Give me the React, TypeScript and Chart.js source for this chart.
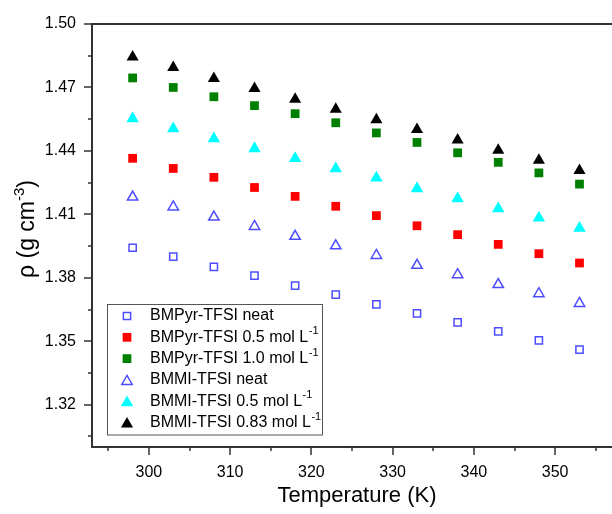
import React, { useEffect, useRef } from 'react';
import { Chart, registerables } from 'chart.js';

Chart.register(...registerables);

// ---- data ----
const temperatures = [298, 303, 308, 313, 318, 323, 328, 333, 338, 343, 348, 353];

const bmpyrNeat = [1.3942, 1.39, 1.3852, 1.381, 1.3763, 1.372, 1.3674, 1.3632, 1.3589, 1.3547, 1.3504, 1.346];
const bmpyr05 = [1.4365, 1.4317, 1.4275, 1.4227, 1.4185, 1.4138, 1.4094, 1.4046, 1.4004, 1.3958, 1.3914, 1.387];
const bmpyr10 = [1.4745, 1.47, 1.4656, 1.4614, 1.4576, 1.4533, 1.4485, 1.444, 1.4391, 1.4346, 1.4296, 1.4243];
const bmmiNeat = [1.4182, 1.4135, 1.4087, 1.4043, 1.3996, 1.3951, 1.3906, 1.3859, 1.3815, 1.3768, 1.3725, 1.3679];
const bmmi05 = [1.4553, 1.4505, 1.4458, 1.4411, 1.4364, 1.4316, 1.4272, 1.4222, 1.4174, 1.4127, 1.4083, 1.4035];
const bmmi083 = [1.4844, 1.4794, 1.4742, 1.4695, 1.4644, 1.4597, 1.4547, 1.4501, 1.4452, 1.4403, 1.4356, 1.4307];

const seriesNames = [
  'BMPyr-TFSI neat',
  'BMPyr-TFSI 0.5 mol L',
  'BMPyr-TFSI 1.0 mol L',
  'BMMI-TFSI neat',
  'BMMI-TFSI 0.5 mol L',
  'BMMI-TFSI 0.83 mol L',
];
const seriesSups = ['', '-1', '-1', '', '-1', '-1'];

const yMajorTicks = [1.32, 1.35, 1.38, 1.41, 1.44, 1.47, 1.5];
const yMinorTicks = [1.305, 1.335, 1.365, 1.395, 1.425, 1.455, 1.485];
const xMajorTicks = [300, 310, 320, 330, 340, 350];
const xMinorTicks = [295, 305, 315, 325, 335, 345, 355];

const xTitle = 'Temperature (K)';
const yTitleMain = 'ρ (g cm';
const yTitleSup = '-3';
const yTitleEnd = ')';

// ---- styles ----
const FONT = '"Liberation Sans", Arial, sans-serif';
const BLUE = '#4d4dff';
const styles = [
  { shape: 'rect', fill: false, color: BLUE, r: 5.1 },
  { shape: 'rect', fill: true, color: '#ff0000', r: 6.2 },
  { shape: 'rect', fill: true, color: '#008000', r: 6.2 },
  { shape: 'triangle', fill: false, color: BLUE, r: 6.0 },
  { shape: 'triangle', fill: true, color: '#00ffff', r: 7.2 },
  { shape: 'triangle', fill: true, color: '#000000', r: 7.0 },
];
const seriesValues = [bmpyrNeat, bmpyr05, bmpyr10, bmmiNeat, bmmi05, bmmi083];

function drawMarker(ctx: CanvasRenderingContext2D, st: any, x: number, y: number) {
  ctx.save();
  ctx.beginPath();
  if (st.shape === 'rect') {
    const s = Math.SQRT1_2 * st.r;
    ctx.rect(x - s, y - s, 2 * s, 2 * s);
  } else {
    const r = st.r;
    ctx.moveTo(x, y - r);
    ctx.lineTo(x + r * Math.sin((2 * Math.PI) / 3), y - r * Math.cos((2 * Math.PI) / 3));
    ctx.lineTo(x + r * Math.sin((4 * Math.PI) / 3), y - r * Math.cos((4 * Math.PI) / 3));
    ctx.closePath();
  }
  if (st.fill) {
    ctx.fillStyle = st.color;
    ctx.fill();
  } else {
    ctx.strokeStyle = st.color;
    ctx.lineWidth = 1.5;
    ctx.stroke();
  }
  ctx.restore();
}

const framePlugin = {
  id: 'frameAndExtras',
  afterDraw(chart: any) {
    const ctx: CanvasRenderingContext2D = chart.ctx;
    const { left, right, top, bottom } = chart.chartArea;
    const xs = chart.scales.x;
    const ys = chart.scales.y;
    ctx.save();
    // frame lines
    ctx.strokeStyle = '#333';
    ctx.lineWidth = 2;
    ctx.beginPath();
    ctx.moveTo(left, top);
    ctx.lineTo(right, top);
    ctx.moveTo(left, top - 1);
    ctx.lineTo(left, bottom + 1);
    ctx.moveTo(left - 1, bottom);
    ctx.lineTo(right, bottom);
    ctx.stroke();
    // ticks
    ctx.lineWidth = 1.5;
    ctx.beginPath();
    yMajorTicks.forEach((v) => {
      const y = Math.round(ys.getPixelForValue(v));
      ctx.moveTo(left - 8, y);
      ctx.lineTo(left, y);
    });
    yMinorTicks.forEach((v) => {
      const y = Math.round(ys.getPixelForValue(v));
      ctx.moveTo(left - 4, y);
      ctx.lineTo(left, y);
    });
    xMajorTicks.forEach((v) => {
      const x = Math.round(xs.getPixelForValue(v));
      ctx.moveTo(x, bottom);
      ctx.lineTo(x, bottom + 8);
    });
    xMinorTicks.forEach((v) => {
      const x = Math.round(xs.getPixelForValue(v));
      ctx.moveTo(x, bottom);
      ctx.lineTo(x, bottom + 4);
    });
    ctx.stroke();

    // x title
    ctx.fillStyle = '#000';
    ctx.font = `22px ${FONT}`;
    ctx.textAlign = 'center';
    ctx.textBaseline = 'middle';
    ctx.fillText(xTitle, 357, 496);

    // y title (rotated with superscript)
    ctx.save();
    ctx.translate(28, 229);
    ctx.rotate(-Math.PI / 2);
    ctx.textAlign = 'left';
    ctx.textBaseline = 'middle';
    const mainFont = `23px ${FONT}`;
    const supFont = `15px ${FONT}`;
    ctx.font = mainFont;
    const w1 = ctx.measureText(yTitleMain).width;
    const w3 = ctx.measureText(yTitleEnd).width;
    ctx.font = supFont;
    const w2 = ctx.measureText(yTitleSup).width;
    let cx = -(w1 + w2 + w3) / 2;
    ctx.font = mainFont;
    ctx.fillText(yTitleMain, cx, 0);
    cx += w1;
    ctx.font = supFont;
    ctx.fillText(yTitleSup, cx, -8);
    cx += w2;
    ctx.font = mainFont;
    ctx.fillText(yTitleEnd, cx, 0);
    ctx.restore();

    // legend
    ctx.fillStyle = '#fff';
    ctx.fillRect(107, 304.5, 215, 130.5);
    ctx.strokeStyle = '#555';
    ctx.lineWidth = 1;
    ctx.strokeRect(107.5, 304.5, 215, 130.5);
    seriesNames.forEach((name, i) => {
      const y = 316 + i * 21.3;
      drawMarker(ctx, styles[i], 127, y + (styles[i].shape === 'triangle' ? 1.5 : 0));
      ctx.fillStyle = '#000';
      ctx.textAlign = 'left';
      ctx.textBaseline = 'middle';
      ctx.font = `16px ${FONT}`;
      ctx.fillText(name, 150, y);
      if (seriesSups[i]) {
        const w = ctx.measureText(name).width;
        ctx.font = `11px ${FONT}`;
        ctx.fillText(seriesSups[i], 150 + w + 0.5, y - 6);
      }
    });
    ctx.restore();
  },
};

export default function App() {
  const canvasRef = useRef<HTMLCanvasElement | null>(null);

  useEffect(() => {
    const canvas = canvasRef.current;
    if (!canvas) return;
    const datasets = seriesValues.map((vals, i) => {
      const st = styles[i];
      return {
        label: seriesNames[i],
        data: temperatures.map((t, j) => ({ x: t, y: vals[j] })),
        pointStyle: st.shape,
        pointRadius: st.r,
        backgroundColor: st.fill ? st.color : 'rgba(0,0,0,0)',
        borderColor: st.color,
        borderWidth: st.fill ? 0 : 1.5,
        showLine: false,
      };
    });
    const chart = new Chart(canvas, {
      type: 'scatter',
      data: { datasets } as any,
      options: {
        responsive: false,
        maintainAspectRatio: false,
        animation: false,
        layout: { autoPadding: false, padding: { top: 24, right: 0, left: 0, bottom: 0 } },
        plugins: { legend: { display: false }, tooltip: { enabled: false } },
        scales: {
          x: {
            type: 'linear',
            min: 293,
            max: 357,
            afterBuildTicks: (s: any) => {
              s.ticks = xMajorTicks.map((v) => ({ value: v }));
            },
            afterFit: (s: any) => {
              s.height = 67;
              s.paddingLeft = 0;
              s.paddingRight = 0;
            },
            grid: { display: false },
            border: { display: false },
            ticks: {
              color: '#000',
              font: { family: FONT, size: 16 },
              padding: 8,
              maxRotation: 0,
              callback: (v: any) => String(v),
            },
          },
          y: {
            type: 'linear',
            min: 1.3,
            max: 1.5,
            afterBuildTicks: (s: any) => {
              s.ticks = yMajorTicks.map((v) => ({ value: v }));
            },
            afterFit: (s: any) => {
              s.width = 92;
              s.paddingTop = 0;
              s.paddingBottom = 0;
            },
            grid: { display: false },
            border: { display: false },
            ticks: {
              color: '#000',
              font: { family: FONT, size: 16 },
              padding: 8,
              callback: (v: any) => Number(v).toFixed(2),
            },
          },
        },
      },
      plugins: [framePlugin],
    } as any);
    return () => chart.destroy();
  }, []);

  return (
    <div style={{ position: 'fixed', left: 0, top: 0, width: 612, height: 514, background: '#fff' }}>
      <canvas ref={canvasRef} width={612} height={514} style={{ display: 'block' }} />
    </div>
  );
}
